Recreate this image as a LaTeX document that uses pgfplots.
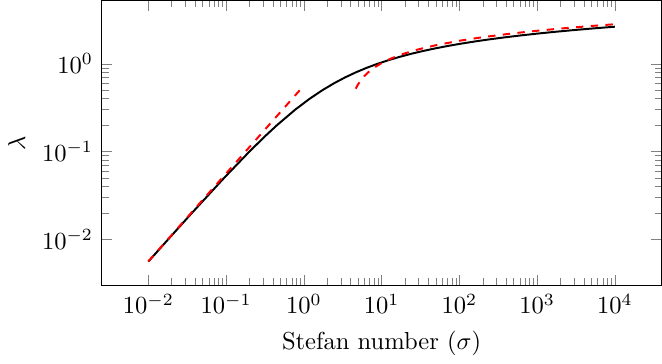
\documentclass[border=0pt]{standalone}
\usepackage{pgfplots}
\pgfplotsset{compat=1.18}
\begin{document}
\begin{tikzpicture}
\begin{axis}[
  scale only axis,
  width=228pt, height=116pt,
  xmode=log, ymode=log,
  xlabel={Stefan number ($\sigma$)},
  ylabel={$\lambda$},
  xtick={1e-2,1e-1,1,1e1,1e2,1e3,1e4},
  ytick={1e-2,1e-1,1},
]
\addplot[black, thick] coordinates {
(0.01,0.005606) (0.017927,0.01) (0.036264,0.02) (0.093853,0.05) (0.199161,0.1)
(0.317599,0.15) (0.451127,0.2) (0.773010,0.3) (1.188422,0.4) (1.730232,0.5)
(2.444766,0.6) (3.397956,0.7) (4.684733,0.8) (6.443502,0.9) (8.878210,1.0)
(12.293326,1.1) (17.149267,1.2) (24.150953,1.3) (34.392494,1.4) (49.594726,1.5)
(72.502468,1.6) (107.55499,1.7) (162.037772,1.8) (248.080834,1.9) (386.185447,2.0)
(611.486,2.1) (985.39,2.2) (1616.23,2.3) (2699.00,2.4) (4589.84,2.5)
(7949.84,2.6) (10000,2.6408)
};
\addplot[red, thick, dashed] coordinates {
(0.01,0.005642) (1,0.564190)
};
\addplot[red, thick, dashed] coordinates {
(4.65,0.5209) (5,0.58644) (6,0.72542) (7,0.82485) (8,0.90217) (10,1.01836)
(12,1.10426) (15,1.20105) (20,1.31537) (30,1.46139) (50,1.62680) (100,1.82747)
(200,2.00818) (500,2.22465) (1000,2.37534) (2000,2.51702) (5000,2.69289)
(10000,2.81865)
};
\end{axis}
\end{tikzpicture}
\end{document}
